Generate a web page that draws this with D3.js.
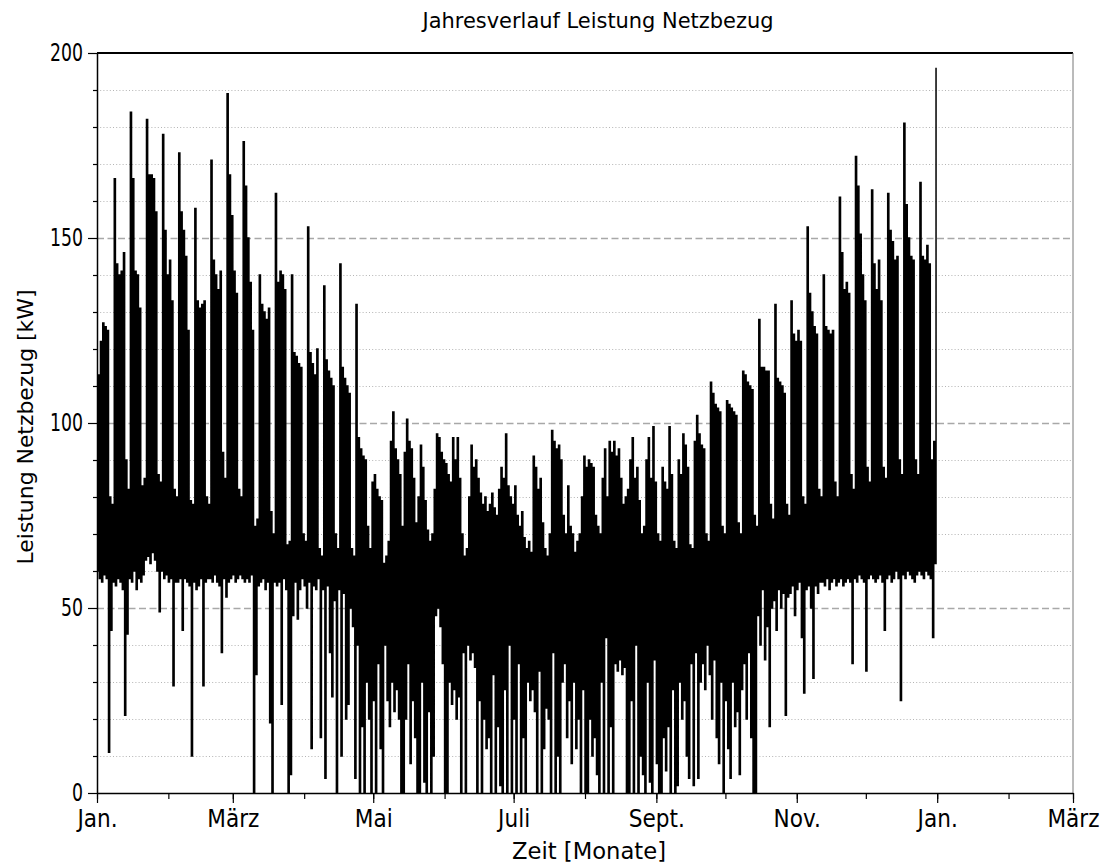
<!DOCTYPE html>
<html>
<head>
<meta charset="utf-8">
<script src="https://cdn.jsdelivr.net/npm/d3@7"></script>
<style>
  body { margin: 0; background: #fff; }
  text { font-family: "DejaVu Sans", Verdana, sans-serif; fill: #000; }
</style>
</head>
<body>
<svg id="chart" width="1107" height="866"></svg>
<script>
// Daily maximum grid import [kW], one row per week (Mon..Sun), Jan 1 .. Dec 31
const peakKW = [
  113,122,127,126,125, 80, 78,
  166,143,140,141,146, 90, 82,
  184,166,141,140,131, 83, 85,
  182,167,167,166,157, 86, 84,
  178,152,140,144,133, 82, 80,
  173,157,152,145,125, 79, 78,
  158,133,131,132,133, 80, 78,
  171,144,140,136,141, 92, 85,
  189,167,156,141,135, 82, 80,
  176,164,150,138,125, 72, 74,
  140,132,130,128,131, 76, 70,
  162,138,141,140,136, 67, 68,
  140,119,118,116,115, 70, 68,
  153,119,116,113,120, 66, 64,
  137,117,114,112,110, 70, 66,
  143,115,112,110,108, 66, 64,
  132, 96, 93, 91, 90, 72, 66,
   84, 86, 82, 80, 79, 62, 64,
   68, 95,103, 93, 90, 86, 72,
   92,101, 95, 93, 85, 73, 80,
   94, 88, 79, 71, 68, 70, 82,
   97, 96, 92, 90, 89, 86, 84,
   96, 90, 96, 85, 70, 64, 66,
   80, 94, 88, 90, 85, 81, 78,
   80, 76, 78, 81, 77, 75, 82,
   88, 85, 97, 83, 80, 78, 83,
   75, 72, 76, 69, 66, 68, 65,
   91, 88, 82, 85, 73, 66, 64,
   70, 98, 95, 93, 94, 90, 75,
   70, 83, 72, 70, 65, 68, 70,
   80, 91, 88, 90, 89, 88, 75,
   72, 70, 85, 93, 80, 95, 92,
   95, 91, 93, 85, 78, 80, 82,
   90, 96, 85, 88, 79, 70, 72,
   90, 96, 85, 99, 84, 70, 68,
   88, 84, 82, 99, 86, 68, 66,
   90, 86, 97, 94, 88, 67, 66,
   95,102, 97, 94, 93, 70, 68,
  111,108,105,104,103, 72, 70,
  106,105,104,103,102, 73, 70,
  114,113,111,110,109, 75, 72,
  128,115,115,114,114, 78, 74,
  132,112,111,110,108, 78, 75,
  133,124,122,125,122, 80, 78,
  153,135,130,126,124, 82, 80,
  140,126,125,124,125, 84, 80,
  161,146,136,138,135, 86, 82,
  172,164,151,140,133, 88, 84,
  163,143,136,144,133, 88, 85,
  162,152,149,144,145, 90, 86,
  181,159,150,145,144, 90, 86,
  165,145,144,148,143, 90, 95,
  196
];

// Daily minimum grid import [kW]
const lowKW = [
  60,58,57,59,58,11,44,
  57,56,58,57,55,21,43,
  58,57,60,55,58,57,59,
  63,64,62,65,63,60,49,
  60,58,59,57,58,29,57,
  57,58,44,58,57,56,10,
  57,55,56,58,29,57,58,
  58,57,59,57,56,38,58,
  53,57,58,59,57,58,59,
  58,57,58,57,59, 0,32,
  56,57,58,55,57,19, 0,
  57,56,57,24,58,55, 0,
   5,48,57,47,55,58,56,
  50,57,12,56,55,58,15,
  55, 4,56,38,26,52, 0,
  55,10,54,20,24,50,45,
   4,40, 0,18, 0,30,20,
   0,25, 0,35,12, 0,40,
  25,18,30,22,28,20, 0,
   0,20,35, 8,25,15, 0,
   0,30, 3, 0,22, 0,10,
  48,50,45,35, 0, 0,30,
  24,28,20,26, 0,38, 0,
  40,36,38,34, 0,25, 0,
  20,12,15, 0,32, 0,18,
   2, 0,28, 0,40, 0,20,
   0,35, 0,15, 0,30,25,
  28,22, 0,33, 0,12,23,
  20, 0,38, 0,10, 0,30,
  35,15,25, 8,30,12,20,
   0,28, 0, 0,20,10,15,
   5, 0,30, 0,42, 0,18,
   0,35,33,36,32,34, 0,
   0,25, 0,40, 0,10, 5,
   0,30, 3, 0,36, 8, 0,
   0,15, 6,18, 0,28, 0,
   2,30,20,25,10, 4,35,
   2,38, 4,30,35,28,40,
  32,20,36,15, 8,30, 0,
  25,12, 4,30,18,22, 5,
  28,35,20,38,15, 0, 0,
  48,40,55,36,45,18,50,
  52,44,55,50,54,21,53,
  54,56,48,55,57,42,27,
  55,56,50,31,56,54,57,
  57,56,58,55,57,58,56,
  57,58,56,57,58,57,35,
  58,57,59,58,57,33,58,
  59,58,57,58,59,57,44,
  58,59,57,58,60,58,25,
  59,58,60,59,58,57,59,
  60,59,58,60,59,58,42,
  62
];

// Month tick labels (every second month is labelled)
const monthLabels = ["Jan.", "", "März", "", "Mai", "", "Juli", "", "Sept.", "", "Nov.", "", "Jan.", "", "März"];
const yMajorTicks = [0, 50, 100, 150, 200];
const yMinorTicks = [10, 20, 30, 40, 60, 70, 80, 90, 110, 120, 130, 140, 160, 170, 180, 190];

const chartTitle = "Jahresverlauf Leistung Netzbezug";
const xTitle = "Zeit [Monate]";
const yTitle = "Leistung Netzbezug [kW]";

// ---- layout
const plot = { left: 97, top: 53, right: 1073, bottom: 793 };
const DAY = 864e5;
const t0 = Date.UTC(2021, 0, 1);
const t1 = Date.UTC(2022, 2, 1);

const x = d3.scaleUtc().domain([t0, t1]).range([plot.left, plot.right]);
const y = d3.scaleLinear().domain([0, 200]).range([plot.bottom, plot.top]);

const svg = d3.select("#chart");

// squeeze a text element horizontally to a given fraction of its natural width
function condense(sel, factor) {
  sel.each(function () {
    const n = this.getComputedTextLength();
    if (n > 0) {
      d3.select(this).attr("textLength", n * factor).attr("lengthAdjust", "spacingAndGlyphs");
    }
  });
}

// ---- grid
const grid = svg.append("g");
grid.selectAll("line.minor").data(yMinorTicks).join("line")
  .attr("x1", plot.left).attr("x2", plot.right)
  .attr("y1", d => Math.round(y(d)) + 0.5).attr("y2", d => Math.round(y(d)) + 0.5)
  .attr("stroke", "#b4b4b4").attr("stroke-width", 1).attr("stroke-dasharray", "1,2.2");
grid.selectAll("line.major").data(yMajorTicks.filter(v => v > 0 && v < 200)).join("line")
  .attr("x1", plot.left).attr("x2", plot.right)
  .attr("y1", d => Math.round(y(d)) + 0.5).attr("y2", d => Math.round(y(d)) + 0.5)
  .attr("stroke", "#a8a8a8").attr("stroke-width", 1.4).attr("stroke-dasharray", "7,3.5");

// ---- series: low/high per day drawn as a stepped line
const points = [];
peakKW.forEach((p, d) => {
  points.push({ t: t0 + d * DAY, v: lowKW[d] });
  points.push({ t: t0 + (d + 0.5) * DAY, v: p });
});

svg.append("clipPath").attr("id", "clip").append("rect")
  .attr("x", plot.left).attr("y", plot.top)
  .attr("width", plot.right - plot.left).attr("height", plot.bottom - plot.top);

const line = d3.line().x(d => x(d.t)).y(d => y(d.v)).curve(d3.curveStepAfter);
svg.append("path")
  .datum(points)
  .attr("clip-path", "url(#clip)")
  .attr("fill", "none")
  .attr("stroke", "#000")
  .attr("stroke-width", 1.5)
  .attr("d", line);

// ---- frame (top and right)
svg.append("line").attr("x1", plot.left).attr("x2", plot.right)
  .attr("y1", plot.top).attr("y2", plot.top).attr("stroke", "#000").attr("stroke-width", 2);
svg.append("line").attr("x1", plot.right).attr("x2", plot.right)
  .attr("y1", plot.top).attr("y2", plot.bottom).attr("stroke", "#777").attr("stroke-width", 1);

// ---- y axis
const yMinorAxis = svg.append("g").attr("transform", `translate(${plot.left},0)`)
  .call(d3.axisLeft(y).tickValues(yMinorTicks).tickSize(4).tickFormat(""));
yMinorAxis.select(".domain").remove();
const yAxis = svg.append("g").attr("transform", `translate(${plot.left},0)`)
  .call(d3.axisLeft(y).tickValues(yMajorTicks).tickSize(9).tickSizeOuter(0).tickPadding(5).tickFormat(d3.format("d")));
yAxis.selectAll("text").attr("font-size", 24).attr("font-family", "DejaVu Sans, sans-serif");
condense(yAxis.selectAll("text"), 0.72);

// ---- x axis
const months = d3.utcMonth.range(new Date(t0), new Date(t1 + DAY));
const xMinorAxis = svg.append("g").attr("transform", `translate(0,${plot.bottom})`)
  .call(d3.axisBottom(x).tickValues(months).tickSize(6).tickFormat(""));
xMinorAxis.select(".domain").remove();
const labelled = months.filter((m, i) => monthLabels[i] !== "");
const xAxis = svg.append("g").attr("transform", `translate(0,${plot.bottom})`)
  .call(d3.axisBottom(x).tickValues(labelled).tickSize(10).tickSizeOuter(0).tickPadding(7)
    .tickFormat(m => monthLabels[months.findIndex(v => +v === +m)]));
xAxis.selectAll("text").attr("font-size", 24).attr("font-family", "DejaVu Sans, sans-serif");
condense(xAxis.selectAll("text"), 0.9);

svg.selectAll(".domain").attr("stroke", "#000").attr("stroke-width", 1.5);
svg.selectAll(".tick line").attr("stroke", "#000").attr("stroke-width", 1.2);

// ---- titles
svg.append("text").attr("x", 598).attr("y", 28).attr("text-anchor", "middle")
  .attr("font-size", 21).attr("textLength", 351).attr("lengthAdjust", "spacingAndGlyphs")
  .text(chartTitle);
svg.append("text").attr("x", 589).attr("y", 859).attr("text-anchor", "middle")
  .attr("font-size", 23).attr("textLength", 154).attr("lengthAdjust", "spacingAndGlyphs")
  .text(xTitle);
svg.append("text").attr("transform", "translate(33,427) rotate(-90)").attr("text-anchor", "middle")
  .attr("font-size", 22).attr("textLength", 275).attr("lengthAdjust", "spacingAndGlyphs")
  .text(yTitle);
</script>
</body>
</html>
